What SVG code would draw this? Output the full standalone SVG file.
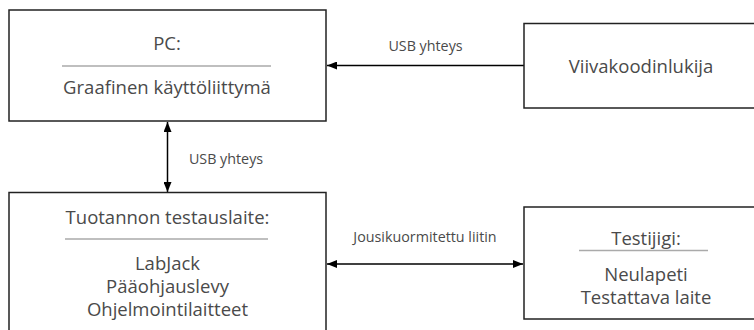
<svg xmlns="http://www.w3.org/2000/svg" width="754" height="330" viewBox="0 0 754 330">
  <defs>
    <marker id="arrow" viewBox="0 0 10 8" refX="10" refY="4" markerWidth="10" markerHeight="8" markerUnits="userSpaceOnUse" orient="auto-start-reverse">
      <path d="M0,0 L10,4 L0,8 z" fill="#000"/>
    </marker>
    <style>
      .box { fill: #fff; stroke: #222; stroke-width: 1.5; }
      .sep { stroke: #aaa; stroke-width: 1.5; }
      .t { font-family: "Open Sans", "DejaVu Sans", sans-serif; font-size: 18.5px; fill: #4a4a4a; text-anchor: middle; }
      .lbl { font-family: "Open Sans", "DejaVu Sans", sans-serif; font-size: 14.3px; fill: #4a4a4a; text-anchor: middle; }
      .conn { stroke: #000; stroke-width: 1.5; fill: none; }
    </style>
  </defs>
  <rect width="754" height="330" fill="#fff"/>

  <g id="connectors">
    <line class="conn" x1="524" y1="65.5" x2="327" y2="65.5" marker-end="url(#arrow)"/>
    <line class="conn" x1="167.5" y1="122" x2="167.5" y2="192" marker-start="url(#arrow)" marker-end="url(#arrow)"/>
    <line class="conn" x1="327" y1="264" x2="523" y2="264" marker-start="url(#arrow)" marker-end="url(#arrow)"/>
    <text class="lbl" x="425.5" y="51">USB yhteys</text>
    <text class="lbl" x="226" y="163.5">USB yhteys</text>
    <text class="lbl" x="425" y="242">Jousikuormitettu liitin</text>
  </g>

  <g id="pc">
    <rect class="box" x="9" y="10" width="317" height="111"/>
    <text class="t" x="167" y="49.5">PC:</text>
    <line class="sep" x1="62" y1="66" x2="271" y2="66"/>
    <text class="t" x="167" y="93.5">Graafinen käyttöliittymä</text>
  </g>

  <g id="viivakoodinlukija">
    <rect class="box" x="524" y="23.5" width="236" height="84.5"/>
    <text class="t" x="641" y="72.5">Viivakoodinlukija</text>
  </g>

  <g id="tuotannon-testauslaite">
    <rect class="box" x="9" y="192.5" width="317" height="150"/>
    <text class="t" x="167.5" y="223.5">Tuotannon testauslaite:</text>
    <line class="sep" x1="65" y1="239" x2="268" y2="239"/>
    <text class="t" x="167.5" y="270">LabJack</text>
    <text class="t" x="167.5" y="293">Pääohjauslevy</text>
    <text class="t" x="167.5" y="315.5">Ohjelmointilaitteet</text>
  </g>

  <g id="testijigi">
    <rect class="box" x="524" y="207" width="244" height="112"/>
    <text class="t" x="646" y="245">Testijigi:</text>
    <line class="sep" x1="579" y1="250.5" x2="708" y2="250.5"/>
    <text class="t" x="646" y="281">Neulapeti</text>
    <text class="t" x="646" y="304">Testattava laite</text>
  </g>
</svg>
